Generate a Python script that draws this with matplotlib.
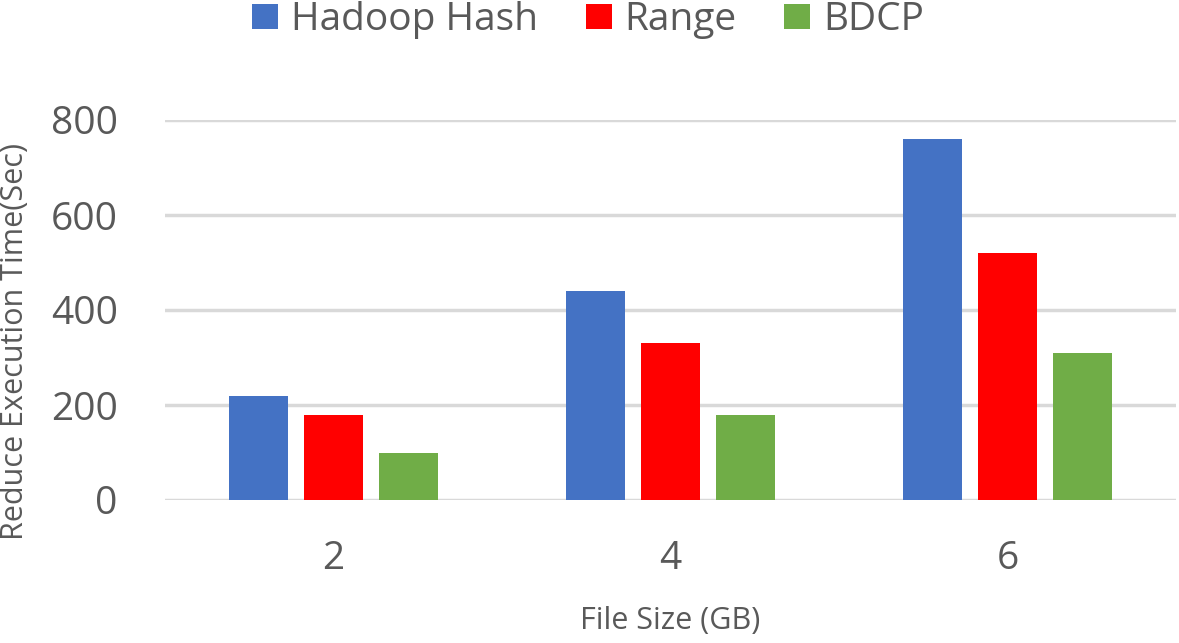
import matplotlib
matplotlib.use("Agg")
import matplotlib.pyplot as plt
import numpy as np

categories = ["2", "4", "6"]
series_names = ["Hadoop Hash", "Range", "BDCP"]
hadoop = [220, 440, 760]
range_vals = [180, 330, 520]
bdcp = [100, 180, 310]
yticks = [0, 200, 400, 600, 800]

colors = ["#4472C4", "#FF0000", "#70AD47"]
txt = "#595959"
plt.rcParams['font.family'] = ['Open Sans', 'DejaVu Sans']

fig = plt.figure(figsize=(11.79, 6.43), dpi=100)
ax = fig.add_axes([165/1179, 1-500/643, 1011/1179, 380/643])

x = np.arange(len(categories))
w = 0.175
step = 0.222
for i, (vals, name, c) in enumerate(zip([hadoop, range_vals, bdcp], series_names, colors)):
    ax.bar(x + (i-1)*step, vals, width=w, color=c, label=name, zorder=3)

ax.set_xlim(-0.5, 2.5)
ax.set_ylim(0, 800)
ax.set_yticks(yticks)
ax.set_xticks(x)
ax.set_xticklabels(categories)
ax.yaxis.grid(True, color="#D9D9D9", linewidth=2.5, zorder=0)
ax.set_axisbelow(True)
for s in ax.spines.values():
    s.set_visible(False)
ax.tick_params(axis='both', length=0, labelsize=28, colors=txt)
ax.tick_params(axis='y', pad=34)
ax.tick_params(axis='x', pad=29)
ax.set_xlabel("File Size (GB)", fontsize=22, color=txt)
ax.xaxis.set_label_coords(0.5, -0.279)
ax.set_ylabel("Reduce Execution Time(Sec)", fontsize=22, color=txt)
ax.yaxis.set_label_coords(-0.1335, 0.416)

leg = fig.legend(loc="center", bbox_to_anchor=(588/1179, 1-20/643), ncol=3, frameon=False,
                 fontsize=28, handlelength=0.67, handleheight=0.62, handletextpad=0.33,
                 columnspacing=1.23, labelcolor=txt)
fig.savefig("out.png", dpi=100)
